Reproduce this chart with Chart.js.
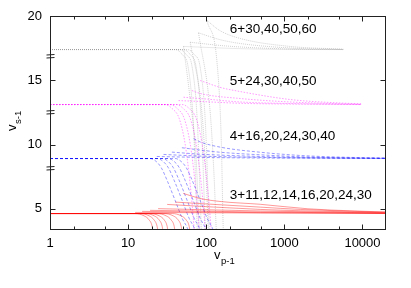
<!DOCTYPE html>
<html>
<head>
<meta charset="utf-8">
<script src="https://cdn.jsdelivr.net/npm/chart.js@4.4.1/dist/chart.umd.min.js"></script>
<style>
  html, body { margin: 0; padding: 0; background: #fff; }
</style>
</head>
<body>
<canvas id="chart" width="411" height="288"></canvas>
<script>
// group labels and where they sit (data units)
const groupLabels = ["3+11,12,14,16,20,24,30", "4+16,20,24,30,40", "5+24,30,40,50", "6+30,40,50,60"];
const labelX = 200;
const labelY = [6.09, 10.68, 14.95, 18.99];

const xTicks = [1, 10, 100, 1000, 10000];
const xMinorTicks = [2, 5, 20, 50, 200, 500, 2000, 5000];
const yTicks = [5, 10, 15, 20];
const breakMarks = [8.2, 12.55, 16.9];

// red (3+...): lower branches share the y list
const redLowY = [4.63, 4.63, 4.45, 4.13, 3.63, 2.93];
const redLowX = [
    [1, 12.3, 16.0, 18.6, 20.3, 21.1],
    [1, 14.3, 18.6, 21.5, 23.5, 24.5],
    [1, 16.5, 21.6, 25.0, 27.3, 28.4],
    [1, 19.2, 25.0, 29.0, 31.6, 32.9],
    [1, 23.5, 30.7, 35.6, 38.9, 40.4],
    [1, 28.9, 37.8, 43.8, 47.8, 49.7],
    [1, 36.7, 47.8, 55.4, 60.5, 62.9]
];
const redHigh = [
    [[12.3, 4.72], [491, 4.67], [20300, 4.64]],
    [[15.1, 4.80], [491, 4.70], [20300, 4.64]],
    [[19.1, 4.88], [491, 4.75], [20300, 4.65]],
    [[24.2, 5.01], [491, 4.83], [20300, 4.67]],
    [[31.6, 5.34], [491, 4.95], [1594, 4.85], [20300, 4.69]],
    [[40.0, 5.52], [491, 5.13], [1594, 4.95], [20300, 4.73]],
    [[50.7, 6.20], [83.8, 5.80], [150, 5.57], [491, 5.35], [2000, 5.00], [8000, 4.83], [20300, 4.75]]
];

// blue (4+...)
const blueLowY = [8.91, 8.91, 8.68, 8.21, 7.20, 5.65, 4.25, 3.32, 2.69];
const blueLowX = [
    [1, 19.2, 22.9, 26.5, 31.6, 40.0, 49.3, 58.8, 62.4],
    [1, 23.5, 28.1, 32.6, 38.9, 49.2, 60.5, 72.2, 76.7],
    [1, 27.3, 32.6, 37.8, 45.1, 57.0, 70.2, 83.7, 88.9],
    [1, 32.6, 38.9, 45.1, 53.8, 68.1, 83.8, 100.0, 106.2],
    [1, 40.1, 47.8, 55.4, 66.2, 83.7, 103.0, 123.0, 130.6]
];
const blueHigh = [
    [[23.3, 9.07], [83.8, 9.00], [491, 8.95], [20300, 8.91]],
    [[28.4, 9.23], [83.8, 9.10], [491, 9.00], [20300, 8.92]],
    [[36.3, 9.41], [83.8, 9.25], [491, 9.07], [1594, 8.99], [20300, 8.92]],
    [[48.8, 9.75], [83.8, 9.57], [150, 9.40], [491, 9.20], [1594, 9.05], [5224, 8.97], [20300, 8.93]],
    [[68.8, 10.45], [83.8, 10.20], [150, 9.80], [491, 9.40], [1594, 9.15], [5224, 9.02], [20300, 8.95]]
];

// magenta (5+...)
const magLowY = [13.11, 13.11, 12.80, 12.02, 10.00, 6.89, 3.32, 1.84];
const magLowX = [
    [1, 29.8, 36.6, 45.1, 53.8, 62.3, 70.1, 72.2],
    [1, 34.6, 42.5, 52.3, 62.5, 72.3, 81.4, 83.9],
    [1, 41.3, 50.8, 62.4, 74.5, 86.4, 97.1, 100.1],
    [1, 49.2, 60.5, 74.4, 88.8, 102.9, 115.7, 119.3]
];
const magHigh = [
    [[44.2, 13.42], [83.8, 13.35], [273, 13.21], [1194, 13.15], [9600, 13.11]],
    [[51.2, 13.68], [83.8, 13.58], [273, 13.31], [1194, 13.19], [9600, 13.12]],
    [[65.6, 14.20], [83.8, 13.97], [273, 13.58], [1194, 13.31], [5224, 13.17], [9600, 13.13]],
    [[83.8, 14.98], [150, 14.45], [273, 14.12], [1194, 13.50], [5224, 13.23], [9600, 13.17]]
];

// gray (6+...)
const grayLowY = [17.39, 17.39, 17.00, 15.99, 11.87, 5.73, 3.33, 1.85];
const grayLowX = [
    [1, 40.1, 49.2, 58.8, 68.1, 74.5, 76.7, 77.8],
    [1, 45.1, 55.4, 66.2, 76.7, 83.8, 86.4, 87.6],
    [1, 50.7, 62.3, 74.4, 86.2, 94.3, 97.1, 98.5],
    [1, 57.1, 70.2, 83.8, 97.1, 106.1, 109.3, 110.9]
];
const grayHigh = [
    [[51.2, 17.63], [273, 17.46], [1194, 17.40], [5700, 17.39]],
    [[62.4, 17.96], [150, 17.71], [273, 17.59], [1194, 17.43], [5700, 17.39]],
    [[79.7, 18.69], [150, 18.16], [273, 17.86], [1194, 17.51], [5700, 17.40]],
    [[102.1, 19.65], [150, 18.86], [273, 18.25], [1194, 17.63], [5224, 17.43], [5700, 17.42]]
];
// gray steep branches falling from the cusps
const graySteep = [
    [[51.2, 17.63], [62.4, 13.47], [74.4, 8.81], [81.3, 3.37], [83.8, 2.21]],
    [[62.4, 17.96], [88.1, 12.46], [100, 7.26], [106.1, 3.37], [109.3, 2.21]],
    [[79.7, 18.69], [112.5, 12.46], [126.6, 7.26], [134.4, 3.37], [138.4, 2.21]],
    [[102.1, 19.65], [137.2, 16.43], [155.7, 10.37], [165.2, 3.37], [170.1, 2.21]]
];

const styles = {
    red: { color: "rgba(255,0,0,0.5)", dash: [] },
    blue: { color: "rgba(0,0,255,0.5)", dash: [3, 2] },
    mag: { color: "rgba(255,0,255,0.5)", dash: [1.5, 1.5] },
    gray: { color: "rgba(140,140,140,0.5)", dash: [1, 1] }
};

Chart.defaults.font.family = "'Liberation Sans', Arial, sans-serif";
Chart.defaults.color = "#000";

let datasets = [];

function addLine(pts, st) {
    datasets.push({
        data: pts.map(p => ({ x: p[0], y: p[1] })),
        borderColor: st.color,
        borderWidth: 0.8,
        borderDash: st.dash,
        pointRadius: 0,
        fill: false,
        cubicInterpolationMode: "monotone"
    });
}

function addGroup(lowX, lowY, high, st) {
    lowX.forEach(xs => addLine(xs.map((x, i) => [x, lowY[i]]), st));
    high.forEach(h => addLine(h, st));
}

addGroup(redLowX, redLowY, redHigh, styles.red);
addGroup(blueLowX, blueLowY, blueHigh, styles.blue);
addGroup(magLowX, magLowY, magHigh, styles.mag);
addGroup(grayLowX, grayLowY, grayHigh, styles.gray);
graySteep.forEach(s => addLine(s, styles.gray));

const framePlugin = {
    id: "frame",
    afterDraw(chart) {
        const ctx = chart.ctx;
        const a = chart.chartArea;
        const x = chart.scales.x, y = chart.scales.y;
        const L = Math.round(a.left) + 0.5, R = Math.round(a.right) - 0.5;
        const T = Math.round(a.top) + 0.5, B = Math.round(a.bottom) - 0.5;
        ctx.save();
        ctx.strokeStyle = "#222";
        ctx.lineWidth = 1;
        ctx.strokeRect(L, T, R - L, B - T);

        ctx.beginPath();
        xTicks.forEach(v => {
            const px = Math.round(x.getPixelForValue(v)) + 0.5;
            ctx.moveTo(px, B); ctx.lineTo(px, B - 5);
            ctx.moveTo(px, T); ctx.lineTo(px, T + 5);
        });
        xMinorTicks.forEach(v => {
            const px = Math.round(x.getPixelForValue(v)) + 0.5;
            ctx.moveTo(px, B); ctx.lineTo(px, B - 3);
            ctx.moveTo(px, T); ctx.lineTo(px, T + 3);
        });
        yTicks.forEach(v => {
            const py = Math.round(y.getPixelForValue(v)) + 0.5;
            ctx.moveTo(L, py); ctx.lineTo(L + 5, py);
            ctx.moveTo(R, py); ctx.lineTo(R - 5, py);
        });
        ctx.stroke();

        // axis break marks
        ctx.beginPath();
        breakMarks.forEach(v => {
            const py = Math.round(y.getPixelForValue(v)) + 0.5;
            ctx.moveTo(L - 4, py - 1.5); ctx.lineTo(L + 4, py - 2);
            ctx.moveTo(L - 4, py + 1.5); ctx.lineTo(L + 4, py + 1);
        });
        ctx.stroke();

        // group labels
        ctx.fillStyle = "#000";
        ctx.font = "13.5px 'Liberation Sans', Arial, sans-serif";
        ctx.textBaseline = "middle";
        ctx.textAlign = "left";
        groupLabels.forEach((t, i) => {
            ctx.fillText(t, x.getPixelForValue(labelX), y.getPixelForValue(labelY[i]));
        });

        // axis titles with subscripts
        ctx.textBaseline = "alphabetic";
        ctx.font = "13px 'Liberation Sans', Arial, sans-serif";
        ctx.fillText("v", 214, 259);
        ctx.font = "9.5px 'Liberation Sans', Arial, sans-serif";
        ctx.fillText("p-1", 221, 264);

        ctx.translate(16, 131);
        ctx.rotate(-Math.PI / 2);
        ctx.font = "13px 'Liberation Sans', Arial, sans-serif";
        ctx.fillText("v", 0, 0);
        ctx.font = "9.5px 'Liberation Sans', Arial, sans-serif";
        ctx.fillText("s-1", 7, 5);
        ctx.restore();
    }
};

new Chart(document.getElementById("chart"), {
    type: "line",
    data: { datasets: datasets },
    options: {
        responsive: false,
        animation: false,
        layout: { padding: { top: 16, right: 25, left: 0, bottom: 0 } },
        plugins: { legend: { display: false }, tooltip: { enabled: false } },
        scales: {
            x: {
                type: "logarithmic",
                min: 1,
                max: 20000,
                grid: { display: false, drawTicks: false },
                border: { display: false },
                ticks: { font: { size: 13 }, padding: 6, maxRotation: 0,
                    callback: v => String(v) },
                afterBuildTicks: s => { s.ticks = xTicks.map(v => ({ value: v })); },
                afterFit: s => { s.height = 58; }
            },
            y: {
                min: 3.35,
                max: 20,
                grid: { display: false, drawTicks: false },
                border: { display: false },
                ticks: { font: { size: 13 }, padding: 8 },
                afterBuildTicks: s => { s.ticks = yTicks.map(v => ({ value: v })); },
                afterFit: s => { s.width = 50; }
            }
        }
    },
    plugins: [framePlugin]
});
</script>
</body>
</html>
